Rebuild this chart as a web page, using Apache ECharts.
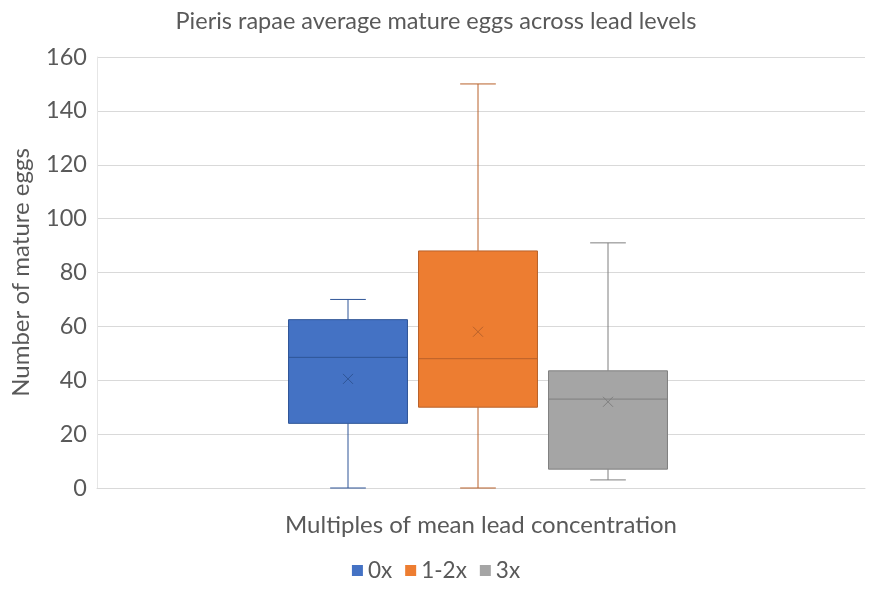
<!DOCTYPE html>
<html><head><meta charset="utf-8">
<script src="https://cdn.jsdelivr.net/npm/echarts@6.0.0/dist/echarts.min.js"></script>
<style>html,body{margin:0;padding:0;background:#fff}#c{width:872px;height:597px}</style>
</head><body><div id="c"></div>
<script>
// ---- data ----
const groups = ['0x', '1-2x', '3x'];
const minVals = [0, 0, 3];
const q1Vals = [24, 30, 7];
const medianVals = [48.5, 48, 33];
const q3Vals = [62.5, 88, 43.5];
const maxVals = [70, 150, 91];
const meanVals = [40.5, 58, 32];
const yMin = 0, yMax = 160, yStep = 20;

// ---- styles ----
const fills = ['#4472C4', '#ED7D31', '#A5A5A5'];
const strokes = ['#2F5597', '#B8612A', '#7F7F7F'];
const FONT = 'Lato';
const TXT = '#595959';

const chart = echarts.init(document.getElementById('c'));

function renderBox(params, api) {
  const idx = api.value(0);
  const cx = api.coord([idx, 0])[0];
  const band = api.size([1, 0])[0];
  const w = band * 0.915;
  const capW = w * 0.3;
  const y = k => api.coord([idx, api.value(k)])[1];
  const yLo = y(1), yQ1 = y(2), yMed = y(3), yQ3 = y(4), yHi = y(5), yMean = y(6);
  const sc = strokes[idx], fc = fills[idx];
  const ls = { stroke: sc, lineWidth: 1 };
  const m = 5;
  return {
    type: 'group',
    children: [
      { type: 'line', shape: { x1: cx, y1: yQ3, x2: cx, y2: yHi }, style: ls },
      { type: 'line', shape: { x1: cx, y1: yQ1, x2: cx, y2: yLo }, style: ls },
      { type: 'line', shape: { x1: cx - capW / 2, y1: yHi, x2: cx + capW / 2, y2: yHi }, style: ls },
      { type: 'line', shape: { x1: cx - capW / 2, y1: yLo, x2: cx + capW / 2, y2: yLo }, style: ls },
      { type: 'rect', shape: { x: cx - w / 2, y: yQ3, width: w, height: yQ1 - yQ3 }, style: { fill: fc, stroke: sc, lineWidth: 1 } },
      { type: 'line', shape: { x1: cx - w / 2, y1: yMed, x2: cx + w / 2, y2: yMed }, style: ls },
      { type: 'line', shape: { x1: cx - m, y1: yMean - m, x2: cx + m, y2: yMean + m }, style: ls },
      { type: 'line', shape: { x1: cx - m, y1: yMean + m, x2: cx + m, y2: yMean - m }, style: ls }
    ]
  };
}

const series = groups.map((g, i) => ({
  name: g,
  type: 'custom',
  xAxisIndex: 1,
  yAxisIndex: 1,
  itemStyle: { color: fills[i] },
  renderItem: renderBox,
  encode: { x: 0, y: [1, 2, 3, 4, 5] },
  data: [[i, minVals[i], q1Vals[i], medianVals[i], q3Vals[i], maxVals[i], meanVals[i]]]
}));

chart.setOption({
  animation: false,
  backgroundColor: '#fff',
  title: {
    text: 'Pieris rapae average mature eggs across lead levels',
    left: 'center', top: 4,
    textStyle: { fontFamily: FONT, fontSize: 23.5, fontWeight: 'normal', color: TXT }
  },
  legend: {
    data: groups,
    bottom: 10, left: 'center',
    icon: 'rect', itemWidth: 11, itemHeight: 11, itemGap: 13,
    textStyle: { fontFamily: FONT, fontSize: 22.5, color: TXT, padding: [0, 0, 0, 0] }
  },
  grid: [
    { left: 97, right: 7, top: 57, bottom: 109 },
    { left: 283, width: 390, top: 57, bottom: 109 }
  ],
  xAxis: [
    {
      gridIndex: 0, type: 'category', data: [''],
      axisLine: { lineStyle: { color: '#D9D9D9' } },
      axisTick: { show: false }, axisLabel: { show: false },
      name: 'Multiples of mean lead concentration', nameLocation: 'middle', nameGap: 25,
      nameTextStyle: { fontFamily: FONT, fontSize: 24, color: TXT }
    },
    {
      gridIndex: 1, type: 'category', data: groups, show: false
    }
  ],
  yAxis: [
    {
      gridIndex: 0, type: 'value', min: yMin, max: yMax, interval: yStep,
      axisLine: { show: true, lineStyle: { color: '#E6E6E6' } },
      axisTick: { show: false },
      splitLine: { lineStyle: { color: '#D9D9D9' } },
      axisLabel: { fontFamily: FONT, fontSize: 23.5, color: TXT, margin: 10 },
      name: 'Number of mature eggs', nameLocation: 'middle', nameGap: 64,
      nameTextStyle: { fontFamily: FONT, fontSize: 24, color: TXT }
    },
    {
      gridIndex: 1, type: 'value', min: yMin, max: yMax, interval: yStep, show: false,
      splitLine: { show: false }
    }
  ],
  series: series
});
</script>
</body></html>
